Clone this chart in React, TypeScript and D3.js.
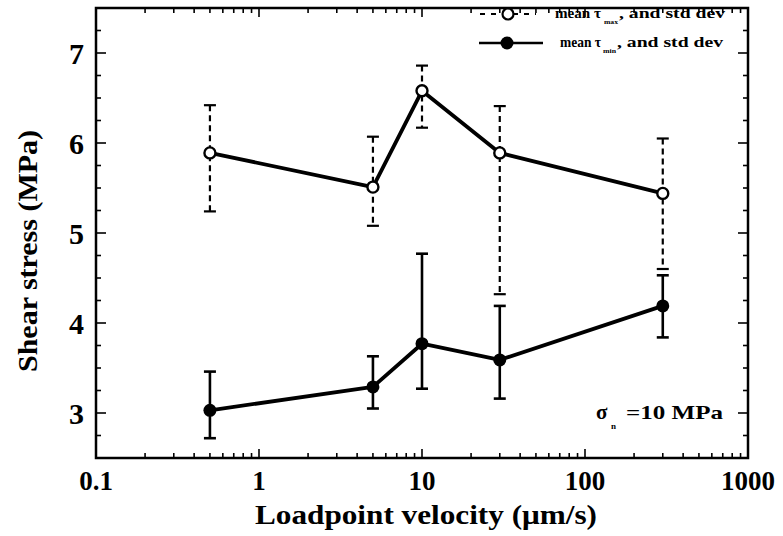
import React from "react";
import * as d3 from "d3";

const velocities = [0.5, 5, 10, 30, 300];
const maxMean = [5.89, 5.51, 6.58, 5.89, 5.44];
const maxHi = [6.42, 6.07, 6.86, 6.41, 6.05];
const maxLo = [5.24, 5.08, 6.17, 4.32, 4.6];
const minMean = [3.03, 3.29, 3.77, 3.59, 4.19];
const minHi = [3.46, 3.63, 4.77, 4.19, 4.53];
const minLo = [2.72, 3.05, 3.27, 3.16, 3.84];
const xTickLabels = ["0.1", "1", "10", "100", "1000"];
const xTickValues = [0.1, 1, 10, 100, 1000];
const yTickValues = [3, 4, 5, 6, 7];

const W = 783;
const H = 536;
const L = 96, R = 748, T = 8, B = 458;
const FONT = "Liberation Serif, Times New Roman, DejaVu Serif, serif";
const ts: React.CSSProperties = { fontFamily: FONT, fontWeight: "bold" };

export default function App() {
  const x = d3.scaleLog().domain([0.1, 1000]).range([L, R]);
  const y = d3.scaleLinear().domain([2.5, 7.5]).range([B, T]);

  const line = d3
    .line<number>()
    .x((_, i) => x(velocities[i]))
    .y((d) => y(d));

  const xMinor: number[] = [];
  for (let e = -1; e < 3; e++) {
    for (let k = 2; k <= 9; k++) xMinor.push(k * Math.pow(10, e));
  }
  const yMinor: number[] = [];
  for (let v = 2.75; v <= 7.26; v += 0.25) {
    const r = Math.round(v * 100) / 100;
    if (Math.abs(r - Math.round(r)) > 0.01) yMinor.push(r);
  }

  const capW = 6;

  return (
    <svg width={W} height={H} style={{ position: "absolute", left: 0, top: 0, background: "#fff" }}>
      <rect x={0} y={0} width={W} height={H} fill="#fff" />
      <g stroke="#000" strokeWidth={1.6}>
        {xTickValues.map((v) => (
          <g key={"xM" + v}>
            <line x1={x(v)} x2={x(v)} y1={B} y2={B - 9} />
            <line x1={x(v)} x2={x(v)} y1={T} y2={T + 9} />
          </g>
        ))}
        {xMinor.map((v) => (
          <g key={"xm" + v}>
            <line x1={x(v)} x2={x(v)} y1={B} y2={B - 5} />
            <line x1={x(v)} x2={x(v)} y1={T} y2={T + 5} />
          </g>
        ))}
        {yTickValues.map((v) => (
          <g key={"yM" + v}>
            <line x1={L} x2={L + 10} y1={y(v)} y2={y(v)} />
            <line x1={R} x2={R - 10} y1={y(v)} y2={y(v)} />
          </g>
        ))}
        {yMinor.map((v) => (
          <g key={"ym" + v}>
            <line x1={L} x2={L + 5} y1={y(v)} y2={y(v)} />
            <line x1={R} x2={R - 5} y1={y(v)} y2={y(v)} />
          </g>
        ))}
      </g>
      <rect x={L} y={T} width={R - L} height={B - T} fill="none" stroke="#000" strokeWidth={2.5} />

      <g fill="#000">
        {xTickValues.map((v, i) => (
          <text key={"xl" + v} x={x(v)} y={490} fontSize={27} textAnchor="middle" style={ts}>
            {xTickLabels[i]}
          </text>
        ))}
        {yTickValues.map((v) => (
          <text key={"yl" + v} x={84} y={y(v) + 11} fontSize={30} textAnchor="end" style={ts}>
            {v}
          </text>
        ))}
        <text x={255} y={524} fontSize={28} textLength={342} lengthAdjust="spacingAndGlyphs" style={ts}>
          Loadpoint velocity (μm/s)
        </text>
        <text transform={`translate(37, 372) rotate(-90)`} fontSize={28} textLength={242} lengthAdjust="spacingAndGlyphs" style={ts}>
          Shear stress (MPa)
        </text>
        <text x={596} y={419} fontSize={21} style={ts}>σ</text>
        <text x={611} y={429} fontSize={9} style={ts}>n</text>
        <text x={626} y={419} fontSize={19} textLength={97} lengthAdjust="spacingAndGlyphs" style={ts}>
          =10 MPa
        </text>
      </g>

      <g stroke="#000" strokeWidth={2.2}>
        {velocities.map((v, i) => (
          <g key={"eM" + i}>
            <line x1={x(v)} x2={x(v)} y1={y(maxHi[i])} y2={y(maxLo[i])} strokeDasharray="6,4" />
            <line x1={x(v) - capW} x2={x(v) + capW} y1={y(maxHi[i])} y2={y(maxHi[i])} />
            <line x1={x(v) - capW} x2={x(v) + capW} y1={y(maxLo[i])} y2={y(maxLo[i])} />
          </g>
        ))}
      </g>
      <g stroke="#000" strokeWidth={2.6}>
        {velocities.map((v, i) => (
          <g key={"em" + i}>
            <line x1={x(v)} x2={x(v)} y1={y(minHi[i])} y2={y(minLo[i])} />
            <line x1={x(v) - capW} x2={x(v) + capW} y1={y(minHi[i])} y2={y(minHi[i])} />
            <line x1={x(v) - capW} x2={x(v) + capW} y1={y(minLo[i])} y2={y(minLo[i])} />
          </g>
        ))}
      </g>

      <path d={line(maxMean) || ""} fill="none" stroke="#000" strokeWidth={3.8} strokeLinejoin="round" />
      <path d={line(minMean) || ""} fill="none" stroke="#000" strokeWidth={3.8} strokeLinejoin="round" />

      {velocities.map((v, i) => (
        <circle key={"pM" + i} cx={x(v)} cy={y(maxMean[i])} r={5.5} fill="#fff" stroke="#000" strokeWidth={2.4} />
      ))}
      {velocities.map((v, i) => (
        <circle key={"pm" + i} cx={x(v)} cy={y(minMean[i])} r={6.5} fill="#000" />
      ))}

      <g>
        <line x1={480} x2={536} y1={14} y2={14} stroke="#000" strokeWidth={2} strokeDasharray="5,6" />
        <circle cx={508} cy={14} r={5.5} fill="#fff" stroke="#000" strokeWidth={2.2} />
        <line x1={479} x2={543} y1={43} y2={43} stroke="#000" strokeWidth={2.4} />
        <circle cx={507} cy={43} r={6.5} fill="#000" />
        <g fill="#000">
          <text x={555} y={18} fontSize={14} textLength={46} lengthAdjust="spacingAndGlyphs" style={ts}>mean τ</text>
          <text x={604} y={24} fontSize={7} textLength={14} lengthAdjust="spacingAndGlyphs" style={ts}>max</text>
          <text x={619} y={18} fontSize={14} textLength={106} lengthAdjust="spacingAndGlyphs" style={ts}>, and std dev</text>
          <text x={560} y={47} fontSize={14} textLength={41} lengthAdjust="spacingAndGlyphs" style={ts}>mean τ</text>
          <text x={603} y={53} fontSize={7} textLength={13} lengthAdjust="spacingAndGlyphs" style={ts}>min</text>
          <text x={617} y={47} fontSize={14} textLength={106} lengthAdjust="spacingAndGlyphs" style={ts}>, and std dev</text>
        </g>
      </g>
    </svg>
  );
}
